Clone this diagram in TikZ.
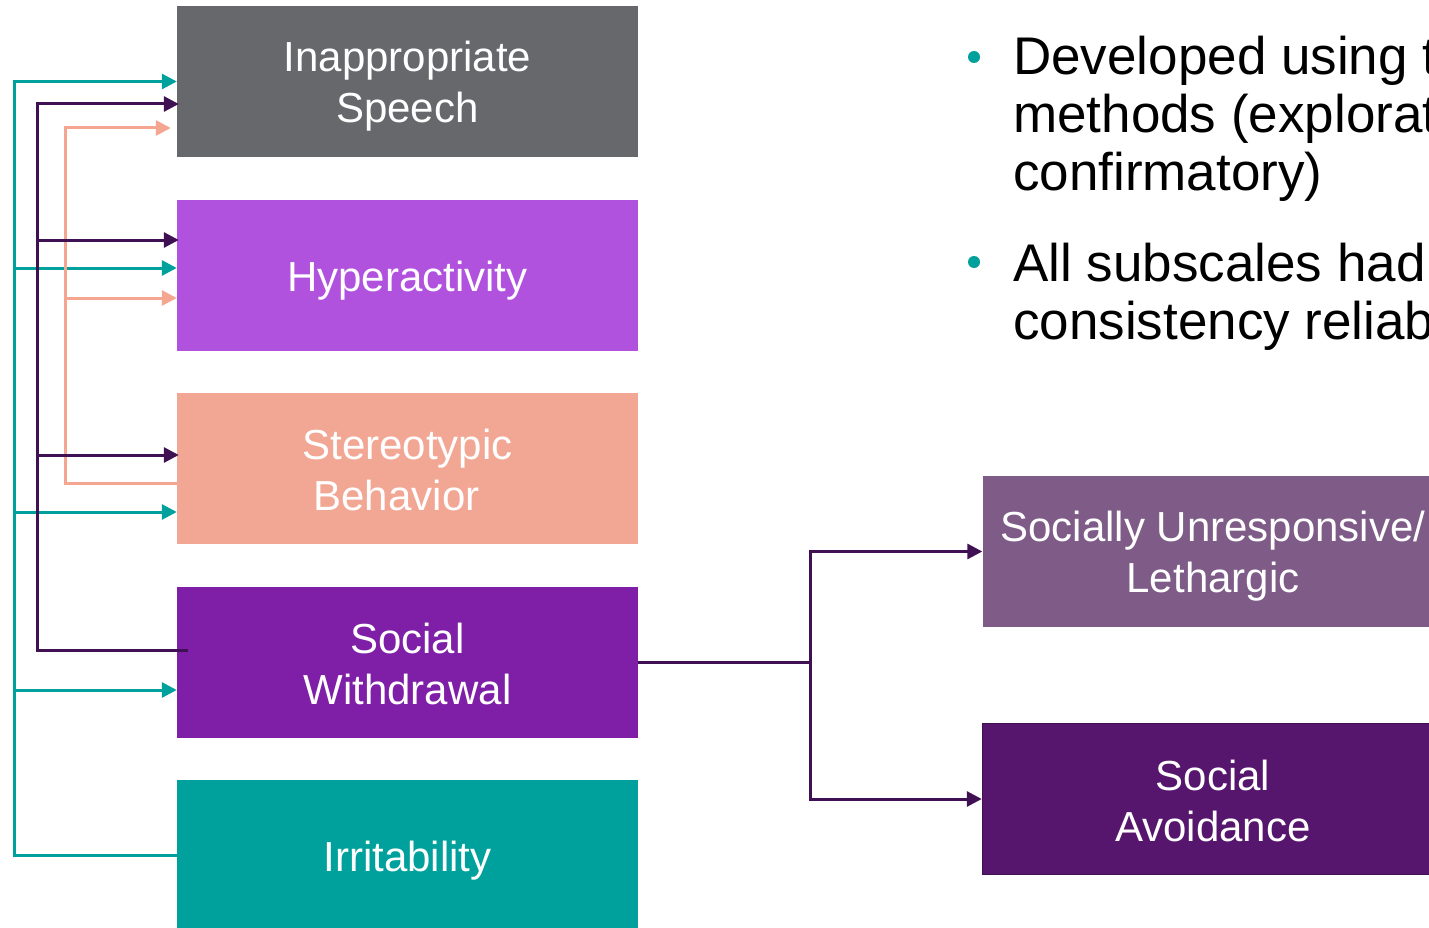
\documentclass[tikz,border=0pt]{standalone}
\usepackage{fontspec}
\setmainfont{Liberation Sans}
\usetikzlibrary{arrows.meta}
\definecolor{cgray}{RGB}{103,104,108}
\definecolor{chyp}{RGB}{176,82,222}
\definecolor{cster}{RGB}{242,167,148}
\definecolor{csw}{RGB}{127,31,167}
\definecolor{cirr}{RGB}{0,161,156}
\definecolor{cleth}{RGB}{127,92,136}
\definecolor{cavoid}{RGB}{87,22,110}
\definecolor{cdark}{RGB}{63,16,82}
\definecolor{csalm}{RGB}{244,166,144}
\newcommand{\mystrut}{\rule[-7pt]{0pt}{47pt}}
\begin{document}
\begin{tikzpicture}[x=1pt,y=-1pt,
  box/.style={rectangle, minimum width=461pt, minimum height=151pt, inner sep=0pt, text=white, align=center, font=\fontsize{42}{51}\selectfont},
  conn/.style={line width=3pt},
  tip/.style={-{Triangle[length=15pt,width=15pt]}},
  btxt/.style={anchor=base west, inner sep=0pt, font=\fontsize{53}{58}\selectfont},
  bdot/.style={circle, fill=cirr, inner sep=0pt, minimum size=12pt}]
\useasboundingbox (0,0) rectangle (1429,928);
\clip (0,0) rectangle (1429,928);
\fill[white] (0,0) rectangle (1429,928);
% left boxes
\node[box, fill=cgray] (isp) at (407.5,81.5) {\mystrut Inappropriate\\\mystrut Speech};
\node[box, fill=chyp] (hyp) at (407.5,275.5) {\mystrut Hyperactivity};
\node[box, fill=cster] (ster) at (407.5,468.5) {\mystrut Stereotypic\\\mystrut Behavior\kern22pt};
\node[box, fill=csw] (sw) at (407.5,662.5) {\mystrut Social\\\mystrut Withdrawal};
\node[box, fill=cirr] (irr) at (407.5,855.5) {\mystrut Irritability};
% right boxes
\node[box, fill=cleth] (slu) at (1213,551.5) {\mystrut Socially Unresponsive/\\\mystrut Lethargic};
\node[box, fill=cavoid, draw=cdark, line width=1.5pt] (sav) at (1213,799) {\mystrut Social\\\mystrut Avoidance};
% trunk coordinates
\coordinate (tt) at (14,0);
\coordinate (td) at (37,0);
\coordinate (ts) at (65,0);
\coordinate (tr) at (810,0);
% end points on boxes
\coordinate (t1) at (isp.west);
\coordinate (t2) at ([yshift=7.5pt]hyp.west);
\coordinate (t3) at ([yshift=-43.5pt]ster.west);
\coordinate (t4) at ([yshift=-27.5pt]sw.west);
\coordinate (s0) at ([yshift=-14.5pt]ster.west);
\coordinate (s1) at ([xshift=-6pt,yshift=-46.5pt]isp.west);
\coordinate (s2) at ([yshift=-22.5pt]hyp.west);
\coordinate (p0) at ([xshift=11pt,yshift=12.5pt]sw.west);
\coordinate (p1) at ([xshift=2pt,yshift=-22.5pt]isp.west);
\coordinate (p2) at ([xshift=2pt,yshift=35.5pt]hyp.west);
\coordinate (p3) at ([xshift=2pt,yshift=13.5pt]ster.west);
% teal connectors (from Irritability)
\draw[conn, cirr, tip] (irr.west) -| (tt |- t1) -- (t1);
\draw[conn, cirr, tip] (tt |- t2) -- (t2);
\draw[conn, cirr, tip] (tt |- t3) -- (t3);
\draw[conn, cirr, tip] (tt |- t4) -- (t4);
% salmon connectors (from Stereotypic Behavior)
\draw[conn, csalm, tip] (s0) -| (ts |- s1) -- (s1);
\draw[conn, csalm, tip] (ts |- s2) -- (s2);
% dark purple connectors (from Social Withdrawal)
\draw[conn, cdark, tip] (p0) -| (td |- p1) -- (p1);
\draw[conn, cdark, tip] (td |- p2) -- (p2);
\draw[conn, cdark, tip] (td |- p3) -- (p3);
% right connectors
\draw[conn, cdark] (sw.east) -- (tr |- sw.east);
\draw[conn, cdark, tip] (tr |- sw.east) |- (slu.west);
\draw[conn, cdark, tip] (tr |- sw.east) |- (sav.west);
% bullets
\node[bdot] (d1) at (974,57) {};
\node[bdot] (d2) at (974,262) {};
\node[btxt] (b1a) at (1013,75) {Developed using two};
\node[btxt] (b1b) at (1013,133) {methods (exploratory and};
\node[btxt] (b1c) at (1013,191) {confirmatory)};
\node[btxt] (b2a) at (1013,281) {All subscales had high};
\node[btxt] (b2b) at (1013,339) {consistency reliability};
\end{tikzpicture}
\end{document}
